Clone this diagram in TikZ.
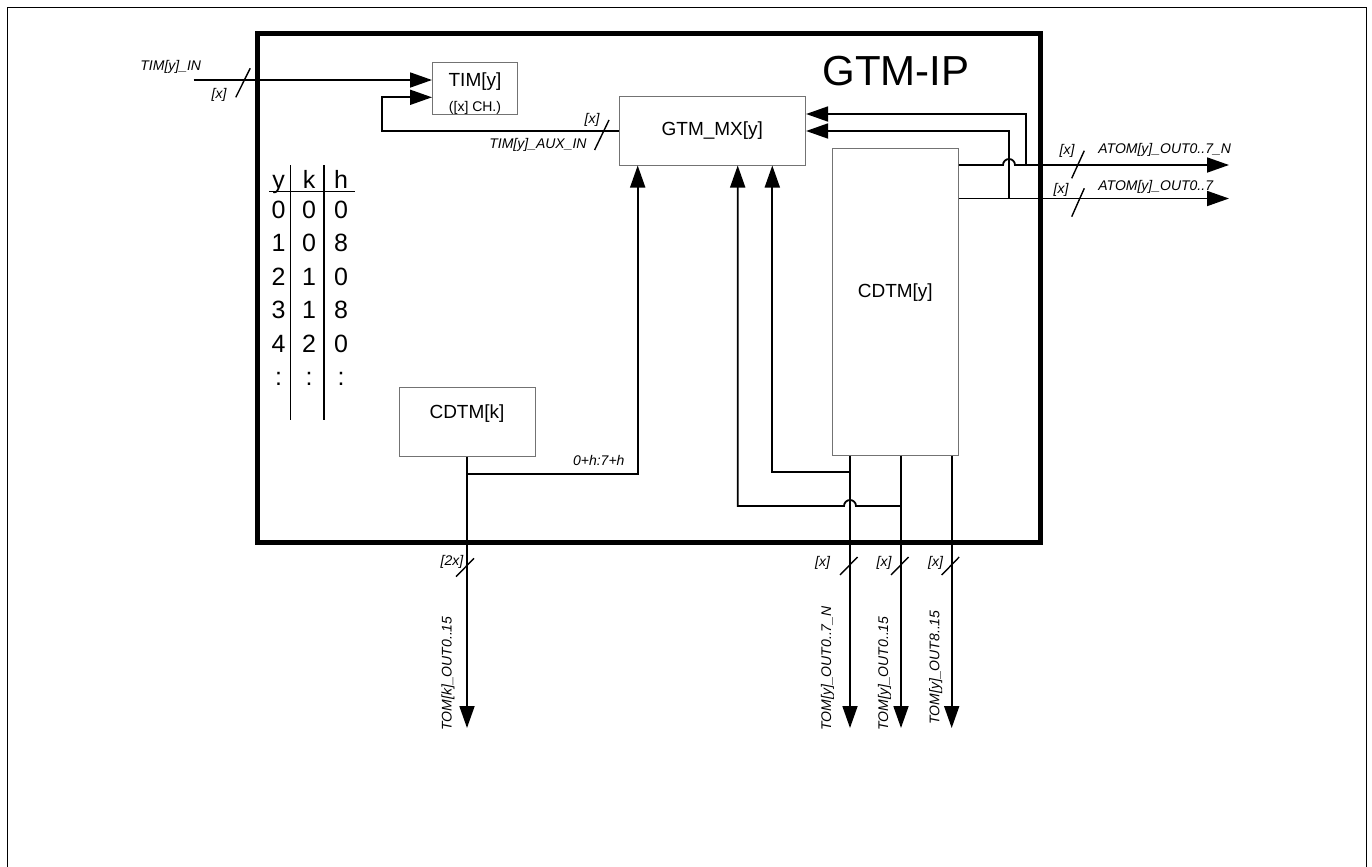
\documentclass[tikz,border=0pt]{standalone}
\usepackage{fontspec}
\setmainfont{Liberation Sans}
\usetikzlibrary{arrows.meta}

\tikzset{
  blk/.style={draw=black!55, line width=0.5pt, inner sep=0pt},
  boxtxt/.style={font=\fontsize{9.5}{11}\selectfont, inner sep=0pt},
  sig/.style={line width=0.9pt, -{Triangle[length=11pt,width=7.5pt]}},
  busmark/.style={line width=0.7pt},
  lbl/.style={font=\fontsize{7}{8}\selectfont\itshape, inner sep=0pt},
  tbl/.style={font=\fontsize{12.5}{14}\selectfont, inner sep=0pt, anchor=base}
}

\begin{document}
\begin{tikzpicture}[x=0.5pt, y=-0.5pt]
  \useasboundingbox (0,0) rectangle (1372,867);
  \draw[line width=0.5pt] (7,867) -- (7,7) -- (1366,7) -- (1366,867);

  % the IP frame
  \node[draw, line width=2.5pt, inner sep=0pt, minimum width=391.5pt,
    minimum height=254.5pt] (ip) at (648.5,287.5) {};
  \node[font=\fontsize{21}{24}\selectfont, inner sep=0pt, anchor=base] (iptxt)
    at (896,85) {GTM-IP};

  % blocks
  \node[blk, minimum width=42.5pt, minimum height=26pt] (tim) at (475,88.3) {};
  \node[boxtxt] (timtxt) at (475,81.5) {TIM[y]};
  \node[lbl, font=\fontsize{7}{8}\selectfont] (timch) at (475,107.5) {([x] CH.)};
  \node[blk, boxtxt, minimum width=93.3pt, minimum height=34.2pt] (mx)
    at (712.3,130.8) {GTM\_MX[y]};
  \node[blk, minimum width=63pt, minimum height=153.3pt] (cdtmy) at (895.3,301.7) {};
  \node[boxtxt] (cdtmytxt) at (895.3,293) {CDTM[y]};
  \node[blk, minimum width=68pt, minimum height=34.3pt] (cdtmk) at (467,421.7) {};
  \node[boxtxt] (cdtmktxt) at (467,413.5) {CDTM[k]};

  % table
  \draw[line width=0.6pt] (269.3,191.7) -- (355,191.7);
  \draw[line width=0.6pt] (290.7,165) -- (290.7,420);
  \draw[line width=0.6pt] (324,165) -- (324,420);
  \node[tbl] (hy) at (278.5,188.3) {y};
  \node[tbl] (hk) at (309,188.3) {k};
  \node[tbl] (hh) at (341,188.3) {h};
  \foreach \a/\b/\c [count=\i from 0] in {0/0/0,1/0/8,2/1/0,3/1/8,4/2/0,:/:/:} {
    \node[tbl] (ty\i) at (278.5,{218+33.5*\i}) {\a};
    \node[tbl] (tk\i) at (309,{218+33.5*\i}) {\b};
    \node[tbl] (th\i) at (341,{218+33.5*\i}) {\c};
  }

  % end points
  \coordinate (timin) at (193.6,80);
  \coordinate (fb) at (381.7,97.3);
  \coordinate (atomn) at (1229,165);
  \coordinate (atomo) at (1229,198.5);
  \coordinate (fbn) at (1026,114);
  \coordinate (fbo) at (1009,131);
  \coordinate (tomk) at (467,728);
  \coordinate (tomn) at (850,728);
  \coordinate (tomy) at (901,728);
  \coordinate (tomh) at (951.7,728);
  \coordinate (ka) at (637.7,474.3);
  \coordinate (ya) at (772.3,472.3);
  \coordinate (yb) at (737.7,506);

  % connectors
  \draw[sig] (timin) -- (timin -| tim.west);
  \draw[sig] (mx.west) -| (fb) -- (fb -| tim.west);
  \draw[sig] (cdtmk.south) -- (tomk);
  \draw[sig] (cdtmk.south |- ka) -- (ka) -- (ka |- mx.south);
  \draw[sig] (tomn |- cdtmy.south) -- (tomn);
  \draw[sig] (tomy |- cdtmy.south) -- (tomy);
  \draw[sig] (tomh |- cdtmy.south) -- (tomh);
  \draw[sig] (tomn |- ya) -- (ya) -- (ya |- mx.south);
  \draw[sig] (tomy |- yb) -- (856,506) arc[start angle=0, end angle=180, radius=3pt]
    -- (yb) -- (yb |- mx.south);
  \draw[sig] (atomn -| cdtmy.east) -- (1003,165)
    arc[start angle=180, end angle=0, radius=3pt] -- (atomn);
  \draw[sig] (atomo -| cdtmy.east) -- (atomo);
  \draw[sig] (fbn |- atomn) -- (fbn) -- (fbn -| mx.east);
  \draw[sig] (fbo |- atomo) -- (fbo) -- (fbo -| mx.east);

  % bus marks
  \draw[busmark] (235.8,97.3) -- (250.2,68.3);
  \draw[busmark] (594.6,150) -- (609,120);
  \draw[busmark] (1071.7,178.3) -- (1084.3,150.7);
  \draw[busmark] (1071.7,216.7) -- (1084.3,188.3);
  \draw[busmark] (456,576.7) -- (474,558.3);
  \foreach \x in {850,901,951.7}
    \draw[busmark] (\x-10,575) -- (\x+7.5,557);

  % labels
  \node[lbl, anchor=base west] (lin) at (140,70) {TIM[y]\_IN};
  \node[lbl] (lx1) at (219,95) {[x]};
  \node[lbl] (lx2) at (592,120) {[x]};
  \node[lbl, anchor=base east] (laux) at (587,148) {TIM[y]\_AUX\_IN};
  \node[lbl, anchor=base west] (lh) at (572.7,465) {0+h:7+h};
  \node[lbl] (lx3) at (1067,151) {[x]};
  \node[lbl] (lx4) at (1061,190) {[x]};
  \node[lbl, anchor=base west] (latn) at (1098,153) {ATOM[y]\_OUT0..7\_N};
  \node[lbl, anchor=base west] (lato) at (1098,190) {ATOM[y]\_OUT0..7};
  \node[lbl] (l2x) at (452,562) {[2x]};
  \node[lbl] (lx5) at (822.5,562.7) {[x]};
  \node[lbl] (lx6) at (884,562.7) {[x]};
  \node[lbl] (lx7) at (935.5,562.7) {[x]};
  \node[lbl, rotate=90, anchor=base west] (ltk) at (451.6,731) {TOM[k]\_OUT0..15};
  \node[lbl, rotate=90, anchor=base west] (ltn) at (831,731) {TOM[y]\_OUT0..7\_N};
  \node[lbl, rotate=90, anchor=base west] (lty) at (888,731) {TOM[y]\_OUT0..15};
  \node[lbl, rotate=90, anchor=base west] (lth) at (939.4,725) {TOM[y]\_OUT8..15};
\end{tikzpicture}
\end{document}
